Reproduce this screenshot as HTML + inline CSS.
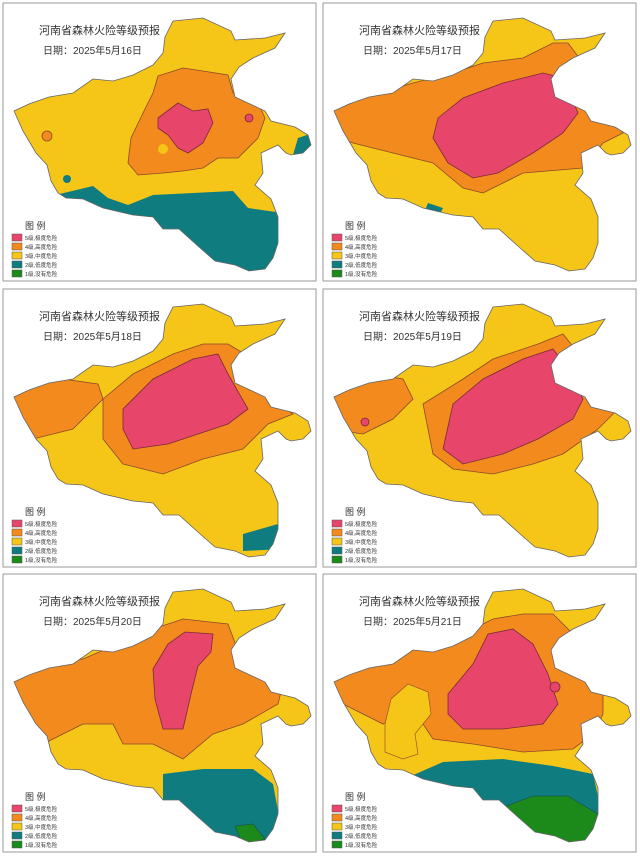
<!DOCTYPE html>
<html><head><meta charset="utf-8"><style>
html,body{margin:0;padding:0;background:#fff;}
svg{display:block}
.t{font-family:"Liberation Sans","Noto Sans CJK SC",sans-serif;fill:#333;}
</style></head><body>
<svg width="640" height="857" viewBox="0 0 640 857" xmlns="http://www.w3.org/2000/svg">
<defs>
<path id="hn" d="M170,18 L200,15 L228,28 L232,37 L262,35 L282,30 L272,45 L250,55 L236,64 L228,76 L232,94 L262,108 L268,118 L292,124 L305,132 L308,142 L300,150 L288,152 L283,150 L275,142 L258,150 L260,170 L252,182 L268,196 L275,214 L275,240 L270,255 L262,266 L246,268 L232,262 L212,258 L196,244 L176,226 L160,226 L150,214 L130,212 L100,205 L80,196 L63,195 L55,190 L48,178 L44,162 L33,150 L20,128 L11,108 L26,101 L46,94 L70,90 L90,76 L110,78 L130,72 L150,62 L160,50 L162,34 Z"/>
<clipPath id="cp"><use href="#hn"/></clipPath>
<g id="leg">
<text class="t" x="22" y="226" font-size="9">图 例</text>
<rect x="9" y="231" width="10" height="7" fill="#e8456a" stroke="#555" stroke-width=".5"/>
<rect x="9" y="240" width="10" height="7" fill="#f28a1e" stroke="#555" stroke-width=".5"/>
<rect x="9" y="249" width="10" height="7" fill="#f5c518" stroke="#555" stroke-width=".5"/>
<rect x="9" y="258" width="10" height="7" fill="#0f7d7f" stroke="#555" stroke-width=".5"/>
<rect x="9" y="267" width="10" height="7" fill="#1b8a1b" stroke="#555" stroke-width=".5"/>
<text class="t" x="22" y="237" font-size="5.5">5级,极度危险</text>
<text class="t" x="22" y="246" font-size="5.5">4级,高度危险</text>
<text class="t" x="22" y="255" font-size="5.5">3级,中度危险</text>
<text class="t" x="22" y="264" font-size="5.5">2级,低度危险</text>
<text class="t" x="22" y="273" font-size="5.5">1级,没有危险</text>
</g>
</defs>
<style>.o{fill:#f28a1e;stroke:#8a4a2a;stroke-width:.8}.p{fill:#e8456a;stroke:#7a2a3a;stroke-width:.8}.q{fill:#0f7d7f}.g{fill:#1b8a1b;stroke:#245;stroke-width:.6}</style>

<!-- Panel 1 -->
<g transform="translate(3,3)">
<rect x="0" y="0" width="313" height="278" fill="#fff" stroke="#999"/>
<use href="#hn" fill="#f5c518"/>
<g clip-path="url(#cp)">
<path class="o" d="M155,73 L180,65 L200,68 L225,72 L230,90 L255,100 L262,115 L255,135 L235,155 L215,155 L200,165 L180,168 L160,170 L135,172 L125,160 L128,135 L140,110 L150,90Z"/>
<path class="p" d="M155,115 L175,100 L190,108 L205,106 L210,120 L200,140 L185,150 L175,145 L165,132 L155,125Z"/>
<circle class="o" cx="44" cy="133" r="5"/><circle class="p" cx="246" cy="115" r="4"/><circle fill="#f5c518" cx="160" cy="146" r="5"/>
<circle class="q" cx="64" cy="176" r="4"/>
<path class="q" d="M40,195 L90,183 L105,195 L125,202 L150,192 L230,188 L245,205 L280,210 L290,290 L40,290Z"/>
<path class="q" d="M295,135 L310,130 L310,150 L290,152Z"/>
</g>
<use href="#hn" fill="none" stroke="#666" stroke-width=".8"/>
<text class="t" x="36" y="31" font-size="11">河南省森林火险等级预报</text>
<text class="t" x="40" y="51" font-size="10">日期：2025年5月16日</text>
<use href="#leg"/>
</g>

<!-- Panel 2 -->
<g transform="translate(323,3)">
<rect x="0" y="0" width="313" height="278" fill="#fff" stroke="#999"/>
<use href="#hn" fill="#f5c518"/>
<g clip-path="url(#cp)">
<path class="o" d="M5,110 L40,95 L90,80 L130,70 L160,60 L200,55 L230,40 L245,40 L260,60 L270,110 L285,110 L300,130 L280,140 L260,165 L200,170 L160,190 L140,185 L110,160 L70,150 L30,140 L5,130Z"/>
<path class="p" d="M115,115 L140,95 L180,80 L220,70 L240,75 L255,110 L240,130 L210,150 L175,170 L150,175 L125,160 L110,135Z"/>
<path class="q" d="M105,200 L120,205 L115,215 L100,212Z"/>
</g>
<use href="#hn" fill="none" stroke="#666" stroke-width=".8"/>
<text class="t" x="36" y="31" font-size="11">河南省森林火险等级预报</text>
<text class="t" x="40" y="51" font-size="10">日期：2025年5月17日</text>
<use href="#leg"/>
</g>

<!-- Panel 3 -->
<g transform="translate(3,289)">
<rect x="0" y="0" width="313" height="278" fill="#fff" stroke="#999"/>
<use href="#hn" fill="#f5c518"/>
<g clip-path="url(#cp)">
<path class="o" d="M5,100 L60,90 L95,95 L100,110 L70,140 L30,150 L5,130Z"/>
<path class="o" d="M100,110 L130,85 L170,65 L200,55 L225,55 L250,70 L250,95 L270,110 L290,125 L265,135 L240,160 L200,170 L160,185 L120,175 L100,150Z"/>
<path class="p" d="M120,120 L150,90 L190,70 L215,65 L225,85 L245,120 L225,135 L195,145 L165,155 L130,160 L120,140Z"/>
<path class="q" d="M240,245 L275,235 L280,260 L240,262Z"/>
</g>
<use href="#hn" fill="none" stroke="#666" stroke-width=".8"/>
<text class="t" x="36" y="31" font-size="11">河南省森林火险等级预报</text>
<text class="t" x="40" y="51" font-size="10">日期：2025年5月18日</text>
<use href="#leg"/>
</g>

<!-- Panel 4 -->
<g transform="translate(323,289)">
<rect x="0" y="0" width="313" height="278" fill="#fff" stroke="#999"/>
<use href="#hn" fill="#f5c518"/>
<g clip-path="url(#cp)">
<path class="o" d="M5,100 L50,85 L80,90 L90,110 L70,130 L40,145 L5,140Z"/>
<path class="o" d="M100,115 L140,90 L170,70 L215,55 L240,45 L260,70 L270,110 L295,120 L275,140 L240,165 L210,175 L170,185 L130,180 L110,165Z"/>
<path class="p" d="M120,160 L130,115 L160,90 L200,70 L230,60 L245,80 L260,110 L250,130 L215,150 L180,165 L140,175Z"/>
<circle class="p" cx="42" cy="133" r="4"/>
</g>
<use href="#hn" fill="none" stroke="#666" stroke-width=".8"/>
<text class="t" x="36" y="31" font-size="11">河南省森林火险等级预报</text>
<text class="t" x="40" y="51" font-size="10">日期：2025年5月19日</text>
<use href="#leg"/>
</g>

<!-- Panel 5 -->
<g transform="translate(3,574)">
<rect x="0" y="0" width="313" height="278" fill="#fff" stroke="#999"/>
<use href="#hn" fill="#f5c518"/>
<g clip-path="url(#cp)">
<path class="o" d="M5,110 L40,90 L80,85 L115,70 L150,55 L180,45 L225,50 L240,90 L255,100 L280,110 L275,130 L240,150 L210,160 L180,185 L150,170 L120,170 L110,150 L80,150 L60,160 L40,170 L20,160 L5,150Z"/>
<path class="p" d="M150,95 L165,70 L182,58 L210,60 L208,78 L195,92 L188,120 L180,155 L160,155 L152,125Z"/>
<path class="q" d="M160,200 L200,195 L250,195 L270,210 L285,290 L160,290Z"/>
<path class="g" d="M232,252 L250,250 L262,265 L240,272Z"/>
</g>
<use href="#hn" fill="none" stroke="#666" stroke-width=".8"/>
<text class="t" x="36" y="31" font-size="11">河南省森林火险等级预报</text>
<text class="t" x="40" y="51" font-size="10">日期：2025年5月20日</text>
<use href="#leg"/>
</g>

<!-- Panel 6 -->
<g transform="translate(323,574)">
<rect x="0" y="0" width="313" height="278" fill="#fff" stroke="#999"/>
<use href="#hn" fill="#f5c518"/>
<g clip-path="url(#cp)">
<path class="o" d="M5,100 L40,85 L90,75 L140,60 L170,45 L200,40 L230,40 L250,60 L260,90 L280,105 L280,140 L270,160 L250,175 L200,178 L150,170 L110,165 L100,150 L80,140 L60,150 L40,140 L20,130Z"/>
<path fill="#f5c518" stroke="#8a4a2a" stroke-width=".6" d="M68,125 L85,110 L105,118 L108,140 L92,160 L95,180 L80,185 L62,178 L62,150Z"/>
<path class="p" d="M125,120 L150,90 L165,60 L190,55 L210,70 L225,100 L235,130 L220,150 L180,155 L140,155 L125,140Z"/>
<circle class="p" cx="232" cy="113" r="5"/>
<path class="q" d="M70,210 L120,188 L180,185 L230,192 L270,200 L290,290 L70,290Z"/>
<path class="g" d="M175,235 L210,222 L245,222 L275,240 L280,290 L175,290Z"/>
</g>
<use href="#hn" fill="none" stroke="#666" stroke-width=".8"/>
<text class="t" x="36" y="31" font-size="11">河南省森林火险等级预报</text>
<text class="t" x="40" y="51" font-size="10">日期：2025年5月21日</text>
<use href="#leg"/>
</g>
</svg>
</body></html>
